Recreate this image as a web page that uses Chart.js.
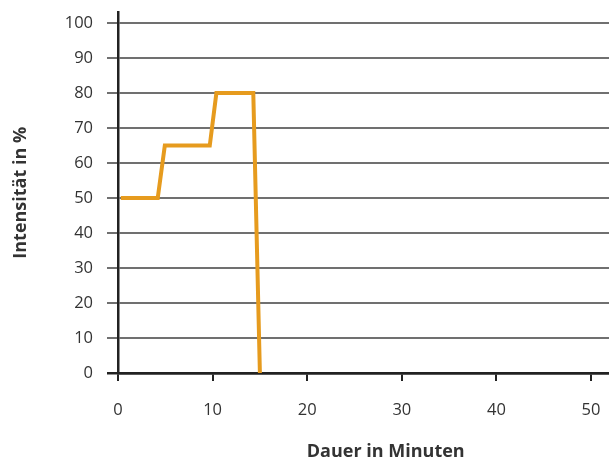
<!DOCTYPE html>
<html>
<head>
<meta charset="utf-8">
<script src="https://cdn.jsdelivr.net/npm/chart.js@4/dist/chart.umd.min.js"></script>
<style>
  html, body { margin: 0; padding: 0; background: #fff; }
  #wrap { position: relative; width: 609px; height: 459px; }
</style>
</head>
<body>
<div id="wrap"><canvas id="chart"></canvas></div>
<script>
// Values
const durations = [0.3, 4.2, 4.95, 9.7, 10.4, 14.3, 15];
const intensities = [50, 50, 65, 65, 80, 80, 0];
const xTicks = [0, 10, 20, 30, 40, 50];
const yTicks = [0, 10, 20, 30, 40, 50, 60, 70, 80, 90, 100];
const xTitle = 'Dauer in Minuten';
const yTitle = 'Intensität in %';

const points = durations.map((d, i) => ({ x: d, y: intensities[i] }));

const tickFont = { family: '"Open Sans", sans-serif', size: 16.5 };
const titleFont = { family: '"Open Sans", sans-serif', size: 18, weight: 'bold' };

function noPad(s) {
  s.paddingTop = 0;
  s.paddingBottom = 0;
  s.paddingLeft = 0;
  s.paddingRight = 0;
}

// x axis title sits a bit right of the plot centre in the original
const xTitlePlugin = {
  id: 'xTitle',
  afterDraw(chart) {
    const { ctx } = chart;
    const x = chart.scales.x.getPixelForValue(28.3);
    ctx.save();
    ctx.font = `bold ${titleFont.size}px ${titleFont.family}`;
    ctx.fillStyle = '#333';
    ctx.textAlign = 'center';
    ctx.textBaseline = 'middle';
    ctx.fillText(xTitle, x, 452);
    ctx.restore();
  }
};

const ctx = document.getElementById('chart').getContext('2d');
new Chart(ctx, {
  type: 'line',
  data: {
    datasets: [{
      data: points,
      borderColor: '#E69B1E',
      borderWidth: 4,
      borderJoinStyle: 'miter',
      pointRadius: 0,
      tension: 0,
      fill: false
    }]
  },
  options: {
    responsive: true,
    maintainAspectRatio: false,
    animation: false,
    layout: { padding: { top: 12.5, right: 0, left: 0, bottom: 0 } },
    plugins: { legend: { display: false }, tooltip: { enabled: false } },
    scales: {
      x: {
        type: 'linear',
        min: 0,
        max: 51.9,
        afterFit: (s) => { s.height = 86; noPad(s); },
        afterBuildTicks: (s) => { s.ticks = xTicks.map(v => ({ value: v })); },
        grid: { drawOnChartArea: false, drawTicks: true, tickLength: 8, color: '#222', lineWidth: 2 },
        border: { color: '#222', width: 2.5 },
        ticks: { color: '#333', font: tickFont, padding: 19, maxRotation: 0 }
      },
      y: {
        min: 0,
        max: 103,
        afterFit: (s) => { s.width = 118; noPad(s); },
        afterBuildTicks: (s) => { s.ticks = yTicks.map(v => ({ value: v })); },
        grid: {
          color: (c) => (c.tick && c.tick.value === 0 ? '#222' : '#707070'),
          lineWidth: (c) => (c.tick && c.tick.value === 0 ? 2.5 : 2),
          tickLength: 11
        },
        border: { color: '#222', width: 2.5 },
        ticks: { color: '#333', font: tickFont, padding: 14 },
        title: { display: true, text: yTitle, color: '#333', font: titleFont, padding: { top: 10, bottom: 0 } }
      }
    }
  },
  plugins: [xTitlePlugin]
});
</script>
</body>
</html>
